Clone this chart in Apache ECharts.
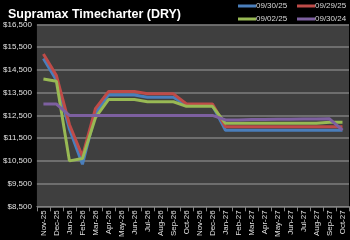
<!DOCTYPE html>
<html><head><meta charset="utf-8">
<script src="https://cdn.jsdelivr.net/npm/echarts@6/dist/echarts.min.js"></script>
<style>html,body{margin:0;padding:0;background:#000;}#c{width:350px;height:240px;}</style>
</head><body><div id="c"></div>
<script>
var categories = ['Nov-25','Dec-25','Jan-26','Feb-26','Mar-26','Apr-26','May-26','Jun-26','Jul-26','Aug-26','Sep-26','Oct-26','Nov-26','Dec-26','Jan-27','Feb-27','Mar-27','Apr-27','May-27','Jun-27','Jul-27','Aug-27','Sep-27','Oct-27'];
var s093025 = [15000,14050,11900,10350,12600,13400,13400,13400,13300,13300,13300,12950,12950,12950,11850,11850,11850,11850,11850,11850,11850,11850,11850,11850];
var s092925 = [15200,14250,12100,10700,12800,13550,13550,13550,13450,13450,13450,13000,13000,13000,12000,12000,12000,12000,12000,12000,12000,12000,12000,12000];
var s090225 = [14100,14000,10500,10600,12400,13200,13200,13200,13100,13100,13100,12900,12900,12900,12150,12150,12150,12150,12150,12150,12150,12150,12200,12200];
var s093024 = [13000,13000,12500,12500,12500,12500,12500,12500,12500,12500,12500,12500,12500,12500,12300,12300,12320,12320,12330,12330,12340,12340,12350,11850];
var yTicks = [8500,9500,10500,11500,12500,13500,14500,15500,16500];

var chart = echarts.init(document.getElementById('c'));
function mk(name, data, color){
  return {name:name, type:'line', data:data, symbol:'none', lineStyle:{width:3,color:color}, itemStyle:{color:color}, animation:false};
}
function lg(name, left, top){
  return {data:[name], left:left, top:top, itemWidth:18, itemHeight:3, icon:'rect', padding:0,
    textStyle:{color:'#d9d9d9',fontSize:8,fontFamily:'Liberation Sans',padding:[0,0,0,-5]}};
}
chart.setOption({
  backgroundColor:'#000',
  animation:false,
  title:{text:'Supramax Timecharter (DRY)', left:3, top:3, textStyle:{color:'#fff',fontFamily:'Liberation Sans',fontWeight:'bold',fontSize:12.5}},
  legend:[lg('09/30/25',238,2), lg('09/29/25',297,2), lg('09/02/25',238,15), lg('09/30/24',297,15)],
  grid:{left:35, right:1, top:24.5, bottom:30.5, show:true, backgroundColor:'#3f3f3f', borderWidth:0},
  xAxis:{type:'category', data:categories, boundaryGap:true,
    axisLine:{lineStyle:{color:'#808080'}}, axisTick:{show:true,lineStyle:{color:'#808080'}},
    axisLabel:{rotate:90, color:'#e0e0e0', fontSize:8, fontFamily:'Liberation Sans', interval:0, margin:4}},
  yAxis:{type:'value', min:8500, max:16500, interval:1000,
    axisLine:{show:false}, axisTick:{show:false},
    splitLine:{lineStyle:{color:'#7f7f7f',width:1.5}},
    axisLabel:{color:'#e0e0e0', fontSize:8, fontFamily:'Liberation Sans', margin:5,
      formatter:function(v){return '$'+v.toLocaleString('en-US');}}},
  series:[mk('09/30/25',s093025,'#4a7ebb'), mk('09/29/25',s092925,'#be4b48'), mk('09/02/25',s090225,'#98b954'), mk('09/30/24',s093024,'#7d60a0')]
});
</script></body></html>
